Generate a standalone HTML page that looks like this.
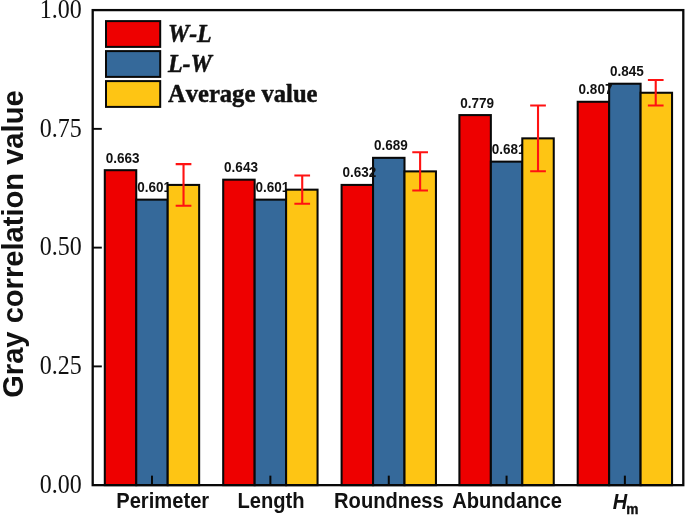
<!DOCTYPE html>
<html><head><meta charset="utf-8"><title>chart</title>
<style>html,body{margin:0;padding:0;background:#fff;}svg{display:block;will-change:transform;filter:blur(0.35px);}text{font-family:"Liberation Sans",sans-serif;fill:#111;font-kerning:none;}.ser{font-family:"Liberation Serif",serif;}</style></head><body>
<svg width="685" height="515" viewBox="0 0 685 515">
<rect x="0" y="0" width="685" height="515" fill="#ffffff"/>
<rect x="104.80" y="170.19" width="31.45" height="314.96" fill="#EE0000" stroke="#080808" stroke-width="2.05"/>
<rect x="223.20" y="179.69" width="31.45" height="305.46" fill="#EE0000" stroke="#080808" stroke-width="2.05"/>
<rect x="341.60" y="184.92" width="31.45" height="300.23" fill="#EE0000" stroke="#080808" stroke-width="2.05"/>
<rect x="459.40" y="115.09" width="31.45" height="370.06" fill="#EE0000" stroke="#080808" stroke-width="2.05"/>
<rect x="577.70" y="101.78" width="31.45" height="383.37" fill="#EE0000" stroke="#080808" stroke-width="2.05"/>
<rect x="136.25" y="199.64" width="31.45" height="285.51" fill="#35699A" stroke="#080808" stroke-width="2.05"/>
<rect x="254.65" y="199.64" width="31.45" height="285.51" fill="#35699A" stroke="#080808" stroke-width="2.05"/>
<rect x="373.05" y="157.84" width="31.45" height="327.31" fill="#35699A" stroke="#080808" stroke-width="2.05"/>
<rect x="490.85" y="161.64" width="31.45" height="323.51" fill="#35699A" stroke="#080808" stroke-width="2.05"/>
<rect x="609.15" y="83.73" width="31.45" height="401.42" fill="#35699A" stroke="#080808" stroke-width="2.05"/>
<text transform="translate(137.15,192.14) scale(1.015,1.11)" font-size="13.33" font-weight="bold">0.601</text>
<text transform="translate(255.55,192.14) scale(1.015,1.11)" font-size="13.33" font-weight="bold">0.601</text>
<text transform="translate(373.95,150.34) scale(1.015,1.11)" font-size="13.33" font-weight="bold">0.689</text>
<text transform="translate(491.75,154.14) scale(1.015,1.11)" font-size="13.33" font-weight="bold">0.681</text>
<text transform="translate(610.05,76.23) scale(1.015,1.11)" font-size="13.33" font-weight="bold">0.845</text>
<rect x="167.70" y="184.92" width="31.45" height="300.23" fill="#FEC514" stroke="#080808" stroke-width="2.05"/>
<rect x="286.10" y="189.67" width="31.45" height="295.48" fill="#FEC514" stroke="#080808" stroke-width="2.05"/>
<rect x="404.50" y="171.38" width="31.45" height="313.77" fill="#FEC514" stroke="#080808" stroke-width="2.05"/>
<rect x="522.30" y="138.36" width="31.45" height="346.79" fill="#FEC514" stroke="#080808" stroke-width="2.05"/>
<rect x="640.60" y="92.76" width="31.45" height="392.39" fill="#FEC514" stroke="#080808" stroke-width="2.05"/>
<text transform="translate(105.70,162.69) scale(1.015,1.11)" font-size="13.33" font-weight="bold">0.663</text>
<text transform="translate(224.10,172.19) scale(1.015,1.11)" font-size="13.33" font-weight="bold">0.643</text>
<text transform="translate(342.50,177.42) scale(1.015,1.11)" font-size="13.33" font-weight="bold">0.632</text>
<text transform="translate(460.30,107.59) scale(1.015,1.11)" font-size="13.33" font-weight="bold">0.779</text>
<text transform="translate(578.60,94.28) scale(1.015,1.11)" font-size="13.33" font-weight="bold">0.807</text>
<path d="M183.53 164.09V205.74M175.68 164.09H191.38M175.68 205.74H191.38" stroke="#FF1212" stroke-width="2.1" fill="none"/>
<path d="M302.22 175.56V203.78M294.37 175.56H310.07M294.37 203.78H310.07" stroke="#FF1212" stroke-width="2.1" fill="none"/>
<path d="M420.12 152.23V190.53M412.27 152.23H427.98M412.27 190.53H427.98" stroke="#FF1212" stroke-width="2.1" fill="none"/>
<path d="M538.02 105.44V171.28M530.17 105.44H545.88M530.17 171.28H545.88" stroke="#FF1212" stroke-width="2.1" fill="none"/>
<path d="M655.73 79.99V105.52M647.88 79.99H663.58M647.88 105.52H663.58" stroke="#FF1212" stroke-width="2.1" fill="none"/>
<line x1="92.7" y1="366.39" x2="101.8" y2="366.39" stroke="#080808" stroke-width="1.9"/>
<line x1="92.7" y1="247.62" x2="101.8" y2="247.62" stroke="#080808" stroke-width="1.9"/>
<line x1="92.7" y1="128.86" x2="101.8" y2="128.86" stroke="#080808" stroke-width="1.9"/>
<line x1="151.97" y1="485.15" x2="151.97" y2="475.65" stroke="#080808" stroke-width="2.0"/>
<line x1="270.38" y1="485.15" x2="270.38" y2="475.65" stroke="#080808" stroke-width="2.0"/>
<line x1="388.78" y1="485.15" x2="388.78" y2="475.65" stroke="#080808" stroke-width="2.0"/>
<line x1="506.57" y1="485.15" x2="506.57" y2="475.65" stroke="#080808" stroke-width="2.0"/>
<line x1="624.88" y1="485.15" x2="624.88" y2="475.65" stroke="#080808" stroke-width="2.0"/>
<rect x="92.7" y="10.1" width="590.60" height="475.05" fill="none" stroke="#080808" stroke-width="2.3"/>
<text transform="translate(81.80,492.95) scale(1.0,1.13)" class="ser" font-size="24" text-anchor="end">0.00</text>
<text transform="translate(81.80,374.19) scale(1.0,1.13)" class="ser" font-size="24" text-anchor="end">0.25</text>
<text transform="translate(81.80,255.43) scale(1.0,1.13)" class="ser" font-size="24" text-anchor="end">0.50</text>
<text transform="translate(81.80,136.66) scale(1.0,1.13)" class="ser" font-size="24" text-anchor="end">0.75</text>
<text transform="translate(81.80,17.90) scale(1.0,1.13)" class="ser" font-size="24" text-anchor="end">1.00</text>
<text transform="translate(23.10,244.10) rotate(-90) scale(0.993,1.03)" font-size="29.33" font-weight="bold" text-anchor="middle">Gray correlation value</text>
<text transform="translate(162.70,508.10) scale(1.008,1.06)" font-size="20" font-weight="bold" text-anchor="middle">Perimeter</text>
<text transform="translate(271.00,508.10) scale(1.008,1.06)" font-size="20" font-weight="bold" text-anchor="middle">Length</text>
<text transform="translate(388.90,508.10) scale(1.008,1.06)" font-size="20" font-weight="bold" text-anchor="middle">Roundness</text>
<text transform="translate(507.00,508.10) scale(1.008,1.06)" font-size="20" font-weight="bold" text-anchor="middle">Abundance</text>
<text transform="translate(612.70,508.60) scale(1.0,1.07)" font-size="20" font-weight="bold"><tspan font-style="italic">H</tspan><tspan font-size="13.7" dx="-0.8" dy="4.9" stroke="#111" stroke-width="0.4">m</tspan></text>
<rect x="106.0" y="21.10" width="54.2" height="25.8" fill="#EE0000" stroke="#080808" stroke-width="2.0"/>
<text transform="translate(167.90,42.40) scale(1.04,1.08)" class="ser" font-size="23" font-weight="bold" font-style="italic" stroke="#111" stroke-width="0.45" stroke-linejoin="round">W-L</text>
<rect x="106.0" y="51.10" width="54.2" height="25.8" fill="#35699A" stroke="#080808" stroke-width="2.0"/>
<text transform="translate(167.90,72.00) scale(1.045,1.08)" class="ser" font-size="23" font-weight="bold" font-style="italic" stroke="#111" stroke-width="0.45" stroke-linejoin="round">L-W</text>
<rect x="106.0" y="81.10" width="54.2" height="25.8" fill="#FEC514" stroke="#080808" stroke-width="2.0"/>
<text transform="translate(167.90,101.60) scale(1.07,1.08)" class="ser" font-size="23" font-weight="bold" stroke="#111" stroke-width="0.45" stroke-linejoin="round">Average value</text>
</svg></body></html>
